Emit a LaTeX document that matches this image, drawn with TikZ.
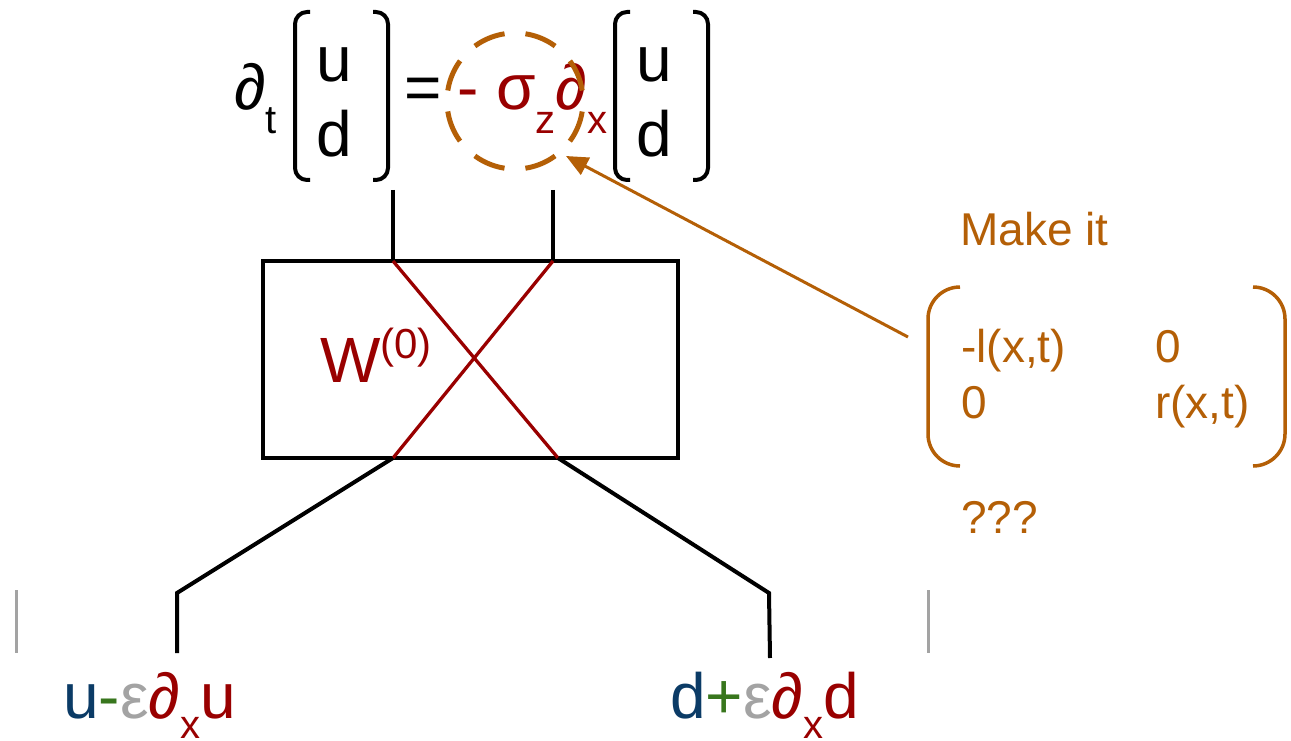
\documentclass[tikz,border=0pt]{standalone}
\usepackage{fontspec}
\setmainfont{Liberation Sans}
\usetikzlibrary{arrows.meta}
\definecolor{wred}{HTML}{990000}
\definecolor{note}{HTML}{B45F06}
\definecolor{wblue}{HTML}{0B3B66}
\definecolor{wgreen}{HTML}{38761D}
\definecolor{wgray}{HTML}{A3A3A3}
\def\lo#1{\raisebox{-24pt}{\fontsize{40}{40}\selectfont #1}}
\def\lox#1{\raisebox{-20pt}{\fontsize{40}{40}\selectfont #1}}
\def\hi#1{\raisebox{24pt}{\fontsize{42}{42}\selectfont #1}}

\begin{document}
\begin{tikzpicture}[x=1pt,y=-1pt,
  big/.style={inner sep=0pt,anchor=base west,font=\fontsize{64}{64}\selectfont},
  small/.style={inner sep=0pt,anchor=base west,text=note,font=\fontsize{46}{46}\selectfont},
  wire/.style={line width=4pt},
  cross/.style={line width=3.3pt,wred},
  brack/.style={line width=4pt,rounded corners=12pt},
  paren/.style={line width=3.5pt,note,rounded corners=32pt},
  tick/.style={line width=3pt,wgray},
  ring/.style={circle,draw=note,line width=5pt,minimum size=136pt,inner sep=0pt,
    dash pattern=on 32.4pt off 21pt,dash phase=42.9pt},
  pointer/.style={line width=3pt,note,-{Triangle[length=22pt,width=19pt]}}]
\useasboundingbox (0,0) rectangle (1291,741);
%equation
\node[big] (dt) at (234,110) {∂\lo{t}};
\node[big] (u1) at (316,82) {u};
\node[big] (d1) at (316,157) {d};
\node[big] (eq) at (404,110) {=};
\node[big,text=wred] (rhs) at (457,110) {- σ\lo{z}∂\lo{x}};
\node[big] (u2) at (636,82) {u};
\node[big] (d2) at (636,157) {d};
\draw[brack] (310,12) -- (295,12) -- (295,180) -- (310,180);
\draw[brack] (373,12) -- (388,12) -- (388,180) -- (373,180);
\draw[brack] (630,12) -- (615,12) -- (615,180) -- (630,180);
\draw[brack] (693,12) -- (708,12) -- (708,180) -- (693,180);
\node[ring] (ring) at (515,101) {};

%box
\node[draw,line width=4pt,minimum width=415pt,minimum height=197pt,inner sep=0pt] (box) at (470.5,359.5) {};
\node[big,text=wred] (wlab) at (320,382) {W\hi{(0)}};

%wires
\coordinate (uin) at (393,190);
\coordinate (din) at (553,190);
\coordinate (utop) at (393,261);
\coordinate (dtop) at (553,261);
\coordinate (ubot) at (393,458);
\coordinate (dbot) at (558,458);
\coordinate (ukink) at (177,593);
\coordinate (dkink) at (769,593);
\coordinate (uout) at (177,653);
\coordinate (dout) at (770,658);
\draw[wire] (uin) -- (utop);
\draw[wire] (din) -- (dtop);
\draw[cross] (utop) -- (dbot);
\draw[cross] (dtop) -- (ubot);
\draw[wire] (ubot) -- (ukink) -- (uout);
\draw[wire] (dbot) -- (dkink) -- (dout);

%ticks
\coordinate (lt1) at (16,590);
\coordinate (lt2) at (16,653);
\coordinate (rt1) at (928,590);
\coordinate (rt2) at (928,653);
\draw[tick] (lt1) -- (lt2);
\draw[tick] (rt1) -- (rt2);

%outputs
\node[big] (uo) at (63,718) {\textcolor{wblue}{u}\textcolor{wgreen}{-}\textcolor{wgray}{ε}\textcolor{wred}{∂\lox{x}u}};
\node[big] (do) at (670,718) {\textcolor{wblue}{d}\textcolor{wgreen}{+}\textcolor{wgray}{ε}\textcolor{wred}{∂\lox{x}d}};

%note
\node[small] (make) at (960,245) {Make it};
\node[small] (m11) at (961,362) {-l(x,t)};
\node[small] (m12) at (1155,362) {0};
\node[small] (m21) at (961,418) {0};
\node[small] (m22) at (1155,418) {r(x,t)};
\node[small] (qq) at (961,533) {???};
\draw[paren] (960,287) -- (928,287) -- (928,466) -- (960,466);
\draw[paren] (1253,287) -- (1285,287) -- (1285,466) -- (1253,466);
\coordinate (from) at (908,337);
\coordinate (tip) at (566,156);
\draw[pointer] (from) -- (tip);
\end{tikzpicture}
\end{document}
